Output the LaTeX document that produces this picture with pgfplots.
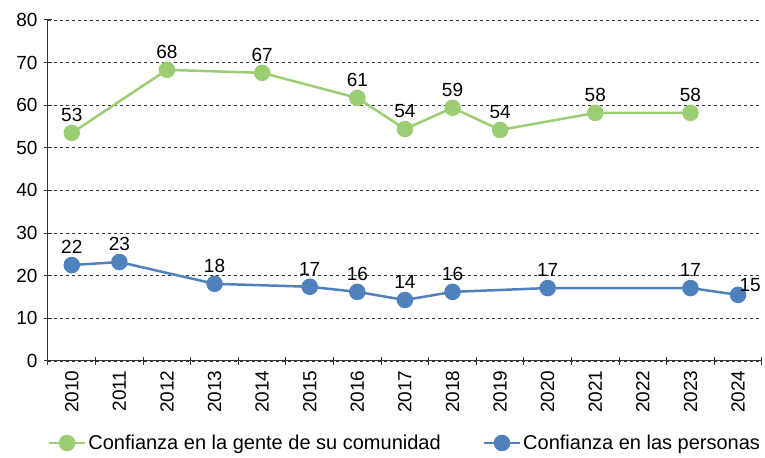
\documentclass[border=0pt]{standalone}
\usepackage{pgfplots}
\pgfplotsset{compat=1.18}
\usepackage{fontspec}
\setmainfont{Liberation Sans}
\usetikzlibrary{calc}
\definecolor{verde}{RGB}{155,206,115}
\definecolor{azul}{RGB}{79,129,189}
\begin{document}
\begin{tikzpicture}
\begin{axis}[
  scale only axis, width=714pt, height=341pt,
  font=\fontsize{19}{22}\selectfont,
  xmin=-0.5, xmax=14.5, ymin=0, ymax=80,
  ytick={0,10,...,80},
  xtick={0,...,14},
  xticklabels={2010,2011,2012,2013,2014,2015,2016,2017,2018,2019,2020,2021,2022,2023,2024},
  x tick label style={rotate=90, anchor=east, xshift=-2pt},
  y tick label style={xshift=-3pt},
  major x tick style={draw=none},
  minor xtick={-0.5,0.5,1.5,2.5,3.5,4.5,5.5,6.5,7.5,8.5,9.5,10.5,11.5,12.5,13.5,14.5},
  minor tick length=8pt,
  major tick length=8pt,
  tick align=outside,
  axis x line=bottom, axis y line=left,
  axis line style={-, line width=1pt, black!80},
  tick style={line width=1pt, black!80},
  ymajorgrids, grid style={dashed, black!80, line width=0.8pt},
  /pgf/number format/assume math mode=true,
  legend style={at={(0.5,-0.205)}, anchor=north, draw=none, legend columns=2,
    font=\fontsize{20}{23}\selectfont,
    /tikz/every even column/.append style={column sep=40pt}},
  legend image code/.code={\draw[#1, line width=2.5pt] (0pt,0pt) -- (36pt,0pt); \draw[#1, mark=*, mark size=7pt, fill] plot coordinates {(18pt,0pt)};},
  nodes near coords={\pgfplotspointmeta},
  point meta=explicit symbolic,
  every node near coord/.append style={anchor=south, yshift=7pt, text=black},
]
\addplot[verde, line width=2.5pt, mark=*, mark size=7pt, mark options={fill=verde, draw=verde}]
  coordinates {(0,53.5)[53] (2,68.3)[68] (4,67.6)[67] (6,61.7)[61] (7,54.4)[54] (8,59.4)[59] (9,54.2)[54] (11,58.2)[58] (13,58.2)[58]};
\addlegendentry{Confianza en la gente de su comunidad}
\addplot[azul, line width=2.5pt, mark=*, mark size=7pt, mark options={fill=azul, draw=azul}]
  coordinates {(0,22.5)[22] (1,23.2)[23] (3,18.1)[18] (5,17.4)[17] (6,16.2)[16] (7,14.3)[14] (8,16.2)[16] (10,17.1)[17] (13,17.1)[17] (14,15.5)[]};
\addlegendentry{Confianza en las personas}
\addplot[draw=none, mark=none, forget plot, every node near coord/.append style={anchor=west, xshift=-2pt, yshift=3pt}]
  coordinates {(14,15.5)[15]};
\end{axis}
\path ($(current axis.south west)+(-48pt,-97pt)$) ($(current axis.north east)+(3pt,20pt)$);
\end{tikzpicture}
\end{document}
